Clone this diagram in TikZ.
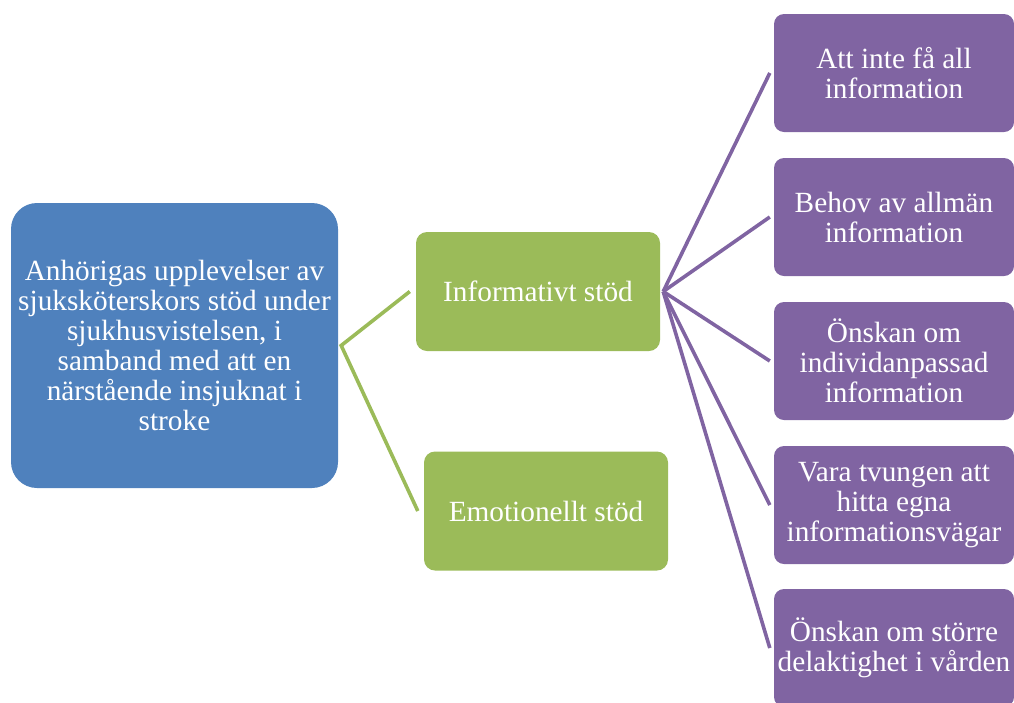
\documentclass[tikz,border=0pt]{standalone}
\usepackage{fontspec}
\setmainfont{Liberation Serif}
\definecolor{cblue}{HTML}{4F81BD}
\definecolor{cgreen}{HTML}{9BBB59}
\definecolor{cpurple}{HTML}{8064A2}
\begin{document}
\begin{tikzpicture}[x=1pt,y=-1pt,
  box/.style={rectangle, text=white, align=center, inner sep=0pt,
    font=\fontsize{29.3}{30}\selectfont},
  rootbox/.style={box, fill=cblue, rounded corners=26pt, minimum width=327pt, minimum height=285pt},
  midbox/.style={box, fill=cgreen, rounded corners=11pt, minimum width=244pt, minimum height=119pt},
  leafbox/.style={box, fill=cpurple, rounded corners=10pt, minimum width=240pt, minimum height=118pt},
  glink/.style={draw=cgreen, line width=3.6pt},
  plink/.style={draw=cpurple, line width=3.6pt}]
\useasboundingbox (0,0) rectangle (1014,702);
\clip (0,0) rectangle (1014,702);
\node[rootbox] (root) at (174.5,345.5) {Anhörigas upplevelser av\\sjuksköterskors stöd under\\sjukhusvistelsen, i\\samband med att en\\närstående insjuknat i\\stroke};
\node[midbox] (info) at (538,291.5) {Informativt stöd};
\node[midbox] (emo) at (546,511) {Emotionellt stöd};
\node[leafbox] (l1) at (894,73) {Att inte få all\\information};
\node[leafbox] (l2) at (894,217) {Behov av allmän\\information};
\node[leafbox] (l3) at (894,361) {Önskan om\\individanpassad\\information};
\node[leafbox] (l4) at (894,505) {Vara tvungen att\\hitta egna\\informationsvägar};
\node[leafbox] (l5) at (894,648) {Önskan om större\\delaktighet i vården};
\coordinate (r) at ([xshift=3pt]root.east);
\coordinate (ie) at ([xshift=3pt]info.east);
\draw[glink] ([xshift=-6pt]info.west) -- (r) -- ([xshift=-6pt]emo.west);
\foreach \n in {l1,l2,l3,l4,l5}{
  \draw[plink] (ie) -- ([xshift=-4pt]\n.west);
}
\end{tikzpicture}
\end{document}
